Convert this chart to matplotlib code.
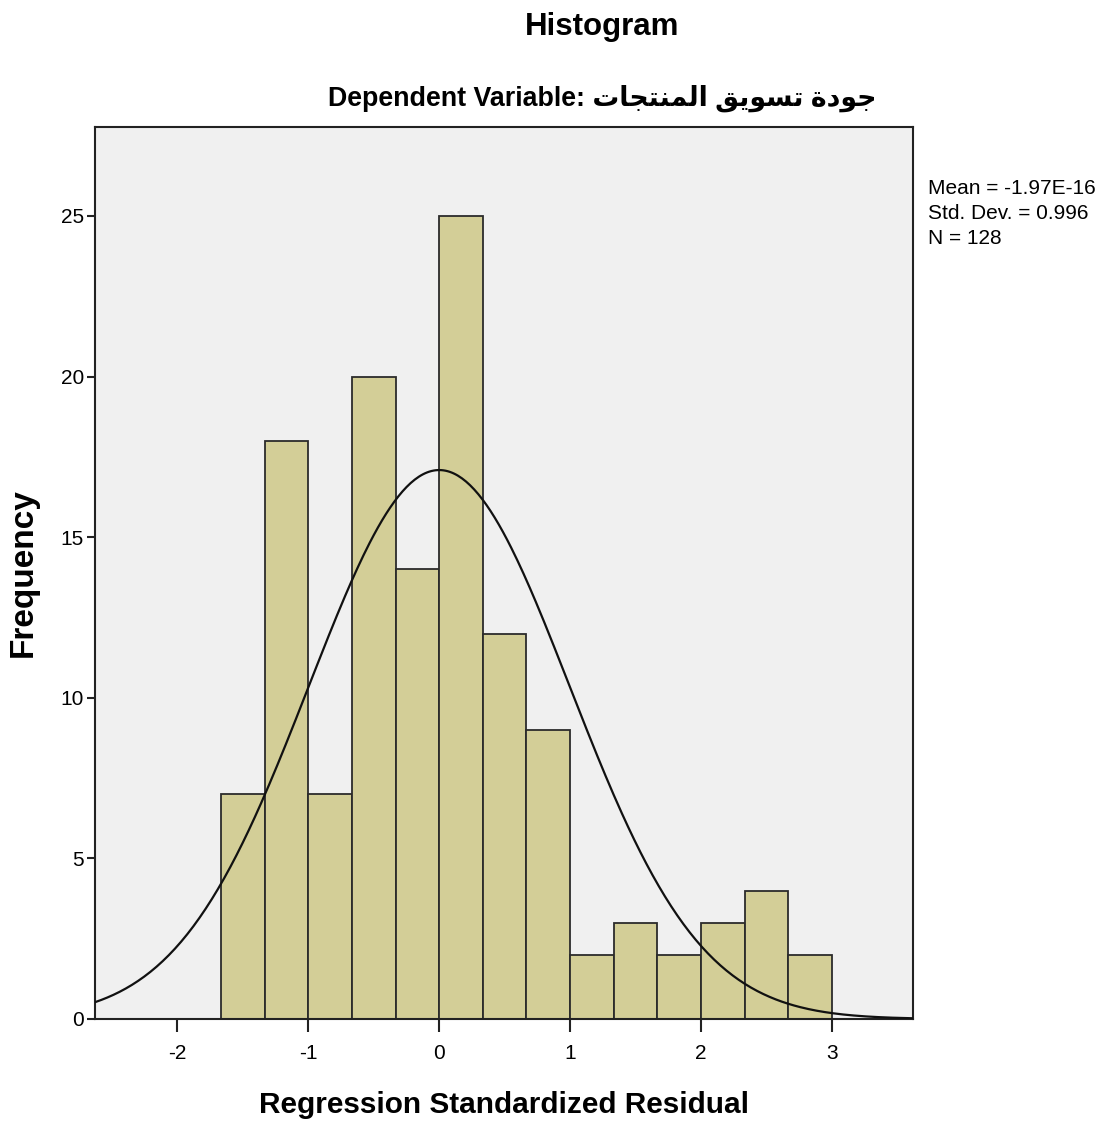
import numpy as np
import matplotlib
matplotlib.use("Agg")
import matplotlib.pyplot as plt

plt.rcParams['font.family'] = ['Liberation Sans', 'DejaVu Sans']
plt.rcParams['axes.unicode_minus'] = False

# histogram of standardized residuals (bin width 1/3)
bin_start = -5 / 3
bin_width = 1 / 3
counts = [7, 18, 7, 20, 14, 25, 12, 9, 2, 3, 2, 3, 4, 2]
mean_val = -1.97e-16
std_val = 0.996
n_obs = 128

x_ticks = [-2, -1, 0, 1, 2, 3]
y_ticks = [0, 5, 10, 15, 20, 25]

# arabic variable name, presentation forms in visual (left-to-right) order
dep_var = ("\uFE95\uFE8E\uFEA0\uFE98\uFEE8\uFEE4\uFEDF\uFE8D "
           "\uFED6\uFEF3\uFEEE\uFEB4\uFE97 "
           "\uFE93\uFEA9\uFEEE\uFE9F")

fig = plt.figure(figsize=(11, 11.29), dpi=100)
ax = fig.add_axes([95 / 1100, 1 - 1019 / 1129, 818 / 1100, 892 / 1129])
ax.set_facecolor('#f0f0f0')

edges = bin_start + bin_width * np.arange(len(counts) + 1)
ax.bar(edges[:-1], counts, width=bin_width, align='edge',
       color='#d3ce97', edgecolor='#2b2b2b', linewidth=1.3, zorder=2)

xs = np.linspace(-2.63, 3.62, 400)
ys = n_obs * bin_width / (std_val * np.sqrt(2 * np.pi)) * np.exp(-0.5 * ((xs - mean_val) / std_val) ** 2)
ax.plot(xs, ys, color='#111111', linewidth=1.6, zorder=3)

ax.set_xlim(-2.63, 3.62)
ax.set_ylim(0, 27.77)
ax.set_xticks(x_ticks)
ax.set_yticks(y_ticks)
ax.tick_params(axis='x', direction='out', length=9, width=1.5, labelsize=15, pad=9, color='#222222')
ax.tick_params(axis='y', direction='out', length=6, width=1.5, labelsize=15, pad=2, color='#222222')
for sp in ax.spines.values():
    sp.set_linewidth(1.5)
    sp.set_color('#222222')

ax.set_xlabel('Regression Standardized Residual', fontsize=21.4, fontweight='bold', labelpad=20)
ax.set_ylabel('Frequency', fontsize=24, fontweight='bold', labelpad=16)

fig.text(602 / 1100, 1 - 27 / 1129, 'Histogram', ha='center', va='center',
         fontsize=22.5, fontweight='bold')
fig.text(602 / 1100, 1 - 98 / 1129, 'Dependent Variable: ' + dep_var, ha='center', va='center',
         fontsize=19.3, fontweight='bold')

fig.text(928 / 1100, 1 - 179 / 1129,
         'Mean = -1.97E-16\nStd. Dev. = 0.996\nN = 128',
         ha='left', va='top', fontsize=15, linespacing=1.4)

fig.savefig('out.png', dpi=100)
